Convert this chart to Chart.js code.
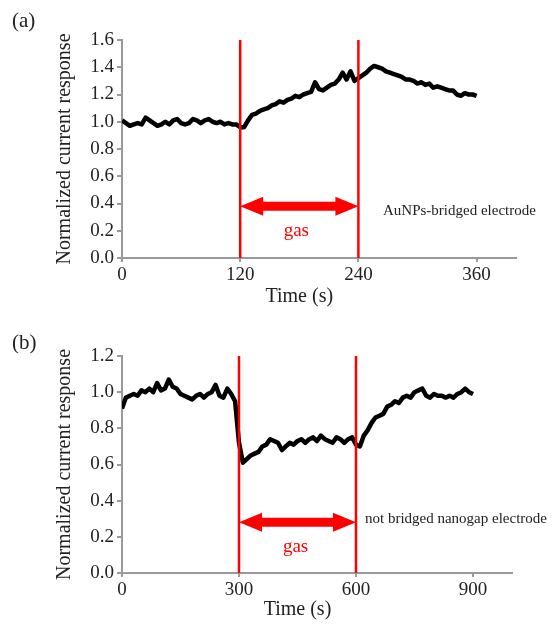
<!DOCTYPE html>
<html>
<head>
<meta charset="utf-8">
<script src="https://cdn.jsdelivr.net/npm/chart.js@4.4.1/dist/chart.umd.min.js"></script>
<style>
  html, body { margin: 0; padding: 0; background: #fff; }
  #wrap { position: relative; width: 558px; height: 625px; }
  canvas { position: absolute; left: 0; }
  #chartA { top: 0; }
  #chartB { top: 312px; }
</style>
</head>
<body>
<div id="wrap">
  <canvas id="chartA" width="558" height="312"></canvas>
  <canvas id="chartB" width="558" height="313"></canvas>
</div>
<script>
// Datos
// (a) AuNPs-bridged electrode, una muestra cada 4 s (0..360 s)
const stepA = 4;
const respA = [
  1.01, 0.99, 0.97, 0.98, 0.99, 0.98, 1.03, 1.01, 0.99, 0.97,
  0.98, 1.00, 0.98, 1.01, 1.02, 0.99, 0.98, 0.99, 1.02, 1.01,
  0.99, 1.01, 1.02, 1.00, 0.99, 1.00, 0.98, 0.99, 0.98, 0.98,
  0.96,
  0.96, 1.01, 1.05, 1.06, 1.08, 1.09, 1.10, 1.12, 1.13, 1.15,
  1.14, 1.16, 1.17, 1.19, 1.18, 1.20, 1.21, 1.22, 1.29, 1.24,
  1.23, 1.25, 1.27, 1.28, 1.31, 1.36, 1.31, 1.37, 1.30, 1.32,
  1.34, 1.36, 1.39, 1.41, 1.40, 1.39, 1.37, 1.36, 1.35, 1.34,
  1.33, 1.31, 1.31, 1.30, 1.28, 1.29, 1.27, 1.28, 1.25, 1.26,
  1.25, 1.24, 1.23, 1.23, 1.20, 1.19, 1.21, 1.20, 1.20, 1.19
];
// (b) not bridged nanogap electrode, una muestra cada 10 s (0..900 s)
const stepB = 10;
const respB = [
  0.91, 0.97, 0.98, 0.99, 0.98, 1.01, 1.00, 1.02, 1.00, 1.05,
  1.01, 1.02, 1.07, 1.03, 1.02, 0.99, 0.98, 0.97, 0.96, 0.98,
  0.99, 0.97, 0.99, 1.00, 1.04, 0.98, 0.97, 1.02, 0.99, 0.95,
  0.72,
  0.61, 0.63, 0.65, 0.66, 0.67, 0.70, 0.71, 0.74, 0.73, 0.72,
  0.68, 0.70, 0.72, 0.71, 0.73, 0.74, 0.72, 0.74, 0.75, 0.73,
  0.76, 0.74, 0.73, 0.72, 0.75, 0.74, 0.72, 0.74, 0.75, 0.71,
  0.70, 0.76, 0.79, 0.83, 0.86, 0.87, 0.88, 0.92, 0.93, 0.95,
  0.94, 0.97, 0.98, 0.97, 1.00, 1.01, 1.02, 0.98, 0.97, 0.99,
  0.98, 0.98, 0.97, 0.98, 0.97, 0.99, 1.00, 1.02, 1.00, 0.99
];

const gasA = [120, 240];
const gasB = [300, 600];
const xTicksA = [0, 120, 240, 360];
const xTicksB = [0, 300, 600, 900];
const yTicksA = [0, 0.2, 0.4, 0.6, 0.8, 1.0, 1.2, 1.4, 1.6];
const yTicksB = [0, 0.2, 0.4, 0.6, 0.8, 1.0, 1.2];

const SERIF = '"Liberation Serif", "Times New Roman", serif';
const AXIS_GRAY = '#9a9a9a';
const RED = '#ff0000';

// Flechas, textos y etiquetas del panel
const decoPlugin = {
  id: 'deco',
  afterDatasetsDraw(chart, args, opts) {
    const ctx = chart.ctx;
    const xs = chart.scales.x, ys = chart.scales.y;
    ctx.save();

    // flecha doble "gas"
    const xl = xs.getPixelForValue(opts.gas[0]);
    const xr = xs.getPixelForValue(opts.gas[1]);
    const yc = ys.getPixelForValue(opts.arrowY);
    const hl = 23, hh = 9.5, sh = 4.5;
    ctx.fillStyle = RED;
    ctx.beginPath();
    ctx.moveTo(xl, yc);
    ctx.lineTo(xl + hl, yc - hh);
    ctx.lineTo(xl + hl, yc - sh);
    ctx.lineTo(xr - hl, yc - sh);
    ctx.lineTo(xr - hl, yc - hh);
    ctx.lineTo(xr, yc);
    ctx.lineTo(xr - hl, yc + hh);
    ctx.lineTo(xr - hl, yc + sh);
    ctx.lineTo(xl + hl, yc + sh);
    ctx.lineTo(xl + hl, yc + hh);
    ctx.closePath();
    ctx.fill();

    ctx.textBaseline = 'middle';
    ctx.textAlign = 'center';
    ctx.font = '19px ' + SERIF;
    ctx.fillText('gas', xs.getPixelForValue(opts.gasTextX), ys.getPixelForValue(opts.gasTextY));

    ctx.fillStyle = '#222';
    ctx.textAlign = 'left';
    ctx.font = '15px ' + SERIF;
    ctx.fillText(opts.note, xs.getPixelForValue(opts.noteX), ys.getPixelForValue(opts.noteY));

    // título del eje x
    ctx.textAlign = 'center';
    ctx.font = '20px ' + SERIF;
    ctx.fillText('Time (s)', xs.getPixelForValue(opts.titleMid), opts.titleY);

    // etiqueta del panel
    ctx.textAlign = 'left';
    ctx.font = '21px ' + SERIF;
    ctx.fillText(opts.panel, 12, opts.panelY);
    ctx.restore();
  }
};

function makePanel(canvasId, step, resp, gas, xMax, xTicks, yMax, yTicks, pad, deco) {
  const ctx = document.getElementById(canvasId).getContext('2d');
  const trace = resp.map((v, i) => ({ x: i * step, y: v }));
  const redLine = t => ({
    data: [{ x: t, y: 0 }, { x: t, y: yMax }],
    borderColor: RED,
    borderWidth: 2.5,
    pointRadius: 0
  });

  return new Chart(ctx, {
    type: 'line',
    data: {
      datasets: [
        redLine(gas[0]),
        redLine(gas[1]),
        {
          data: trace,
          borderColor: '#000',
          borderWidth: 4.5,
          borderJoinStyle: 'round',
          pointRadius: 0,
          tension: 0
        }
      ]
    },
    options: {
      responsive: false,
      animation: false,
      layout: { padding: { top: pad.top, right: pad.right, left: 0, bottom: 0 } },
      plugins: {
        legend: { display: false },
        tooltip: { enabled: false },
        deco: deco
      },
      scales: {
        x: {
          type: 'linear',
          min: 0,
          max: xMax,
          afterBuildTicks: s => { s.ticks = xTicks.map(v => ({ value: v })); },
          afterFit: s => { s.height = pad.xHeight; },
          grid: { display: true, drawOnChartArea: false, drawTicks: true, tickLength: 4, color: AXIS_GRAY, lineWidth: 2 },
          border: { display: true, color: AXIS_GRAY, width: 2 },
          ticks: { color: '#222', font: { family: SERIF, size: 19 }, padding: 2, maxRotation: 0 }
        },
        y: {
          min: 0,
          max: yMax,
          afterBuildTicks: s => { s.ticks = yTicks.map(v => ({ value: v })); },
          afterFit: s => { s.width = 122; },
          grid: { display: true, drawOnChartArea: false, drawTicks: true, tickLength: 5, color: AXIS_GRAY, lineWidth: 2 },
          border: { display: true, color: AXIS_GRAY, width: 2 },
          ticks: {
            color: '#222',
            font: { family: SERIF, size: 19 },
            padding: 3,
            callback: v => v.toFixed(1)
          },
          title: {
            display: true,
            text: 'Normalized current response',
            color: '#222',
            font: { family: SERIF, size: 20 },
            padding: { top: 53, bottom: 0 }
          }
        }
      }
    },
    plugins: [decoPlugin]
  });
}

document.addEventListener('DOMContentLoaded', function() {
  makePanel('chartA', stepA, respA, gasA, 400, xTicksA, 1.6, yTicksA,
    { top: 40, right: 42, xHeight: 54 },
    { gas: gasA, arrowY: 0.38, gasTextX: 177, gasTextY: 0.20,
      note: 'AuNPs-bridged electrode', noteX: 265, noteY: 0.347,
      titleMid: 180, titleY: 297, panel: '(a)', panelY: 21 });

  makePanel('chartB', stepB, respB, gasB, 1000, xTicksB, 1.2, yTicksB,
    { top: 44, right: 46, xHeight: 52 },
    { gas: gasB, arrowY: 0.28, gasTextX: 445, gasTextY: 0.145,
      note: 'not bridged nanogap electrode', noteX: 623, noteY: 0.30,
      titleMid: 450, titleY: 298, panel: '(b)', panelY: 31 });
});
</script>
</body>
</html>
